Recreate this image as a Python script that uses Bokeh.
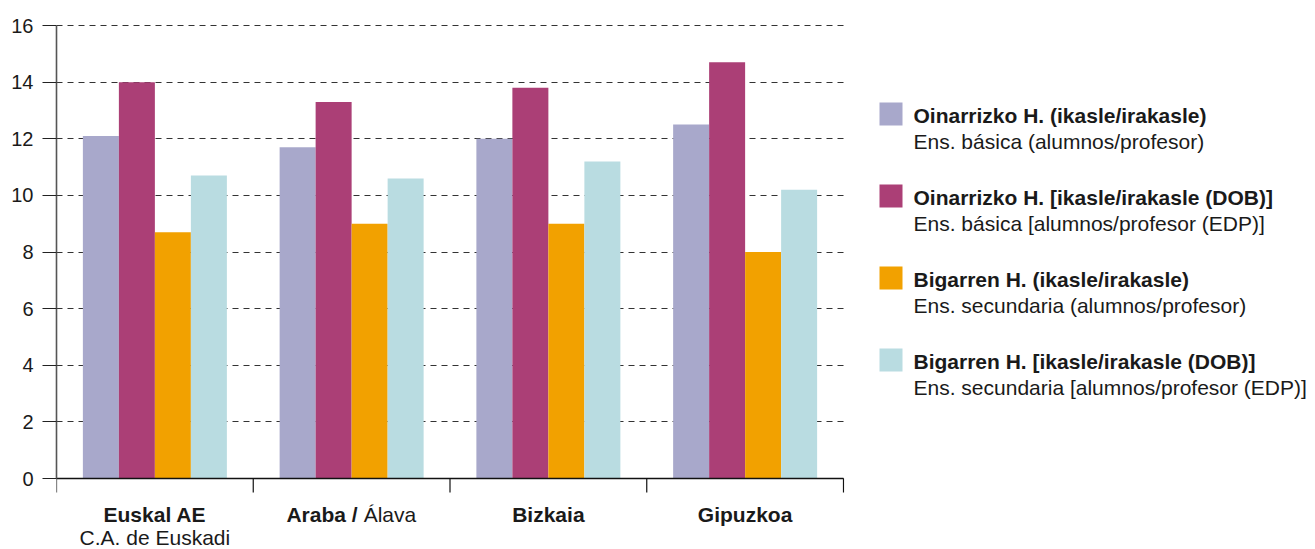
from bokeh.plotting import figure
from bokeh.models import Range1d, FixedTicker
from bokeh.layouts import row
from bokeh.embed import file_html
from bokeh.resources import INLINE
from bokeh.core.properties import value

# ---------------- data ----------------
categories = ["Euskal AE", "Araba / Álava", "Bizkaia", "Gipuzkoa"]
cat_bold = ["Euskal AE", "Araba /", "Bizkaia", "Gipuzkoa"]
cat_inline = ["", "Álava", "", ""]
cat_sub = ["C.A. de Euskadi", "", "", ""]

series_bold = [
    "Oinarrizko H. (ikasle/irakasle)",
    "Oinarrizko H. [ikasle/irakasle (DOB)]",
    "Bigarren H. (ikasle/irakasle)",
    "Bigarren H. [ikasle/irakasle (DOB)]",
]
series_regular = [
    "Ens. básica (alumnos/profesor)",
    "Ens. básica [alumnos/profesor (EDP)]",
    "Ens. secundaria (alumnos/profesor)",
    "Ens. secundaria [alumnos/profesor (EDP)]",
]
basica = [12.1, 11.7, 12.0, 12.5]
basica_edp = [14.0, 13.3, 13.8, 14.7]
secundaria = [8.7, 9.0, 9.0, 8.0]
secundaria_edp = [10.7, 10.6, 11.2, 10.2]
series_values = [basica, basica_edp, secundaria, secundaria_edp]
colors = ["#A8A8CB", "#AB3F76", "#F2A100", "#B9DCE1"]
y_ticks = [0, 2, 4, 6, 8, 10, 12, 14, 16]

# ---------------- layout constants ----------------
FONT = "Liberation Sans"
TXT = "#1a1a1a"
H = 549
W_TOTAL = 1315
W_MAIN = 856
W_LEG = W_TOTAL - W_MAIN
LEFT, RIGHT, TOP = 56, 12, 23
FRAME_W = W_MAIN - LEFT - RIGHT
FRAME_H = H - TOP
PX = 16 / 453.0              # data units per pixel (y)
y_end = 16 + 2 * PX
y_start = y_end - FRAME_H * PX
CAT_PX = 787 / 4.0           # pixels per category
x_end = FRAME_W / CAT_PX
BW = 36 / CAT_PX             # bar width in category units

n = len(categories)

p = figure(width=W_MAIN, height=H, output_backend="svg", toolbar_location=None,
           x_range=Range1d(0, x_end), y_range=Range1d(y_start, y_end),
           x_axis_location=None, min_border_left=LEFT, min_border_right=RIGHT,
           min_border_top=TOP, min_border_bottom=0)
p.outline_line_color = None
p.background_fill_color = "white"
p.border_fill_color = "white"

# y axis
yax = p.yaxis[0]
yax.ticker = FixedTicker(ticks=y_ticks)
yax.bounds = (0, 16)
yax.major_tick_out = 14
yax.major_tick_in = 0
yax.minor_tick_line_color = None
yax.major_label_standoff = 9
yax.major_label_text_font = FONT
yax.major_label_text_font_size = "20px"
yax.major_label_text_color = TXT
yax.axis_line_color = "#555555"
yax.axis_line_width = 1.6
yax.major_tick_line_color = "#222222"

p.xgrid.visible = False
p.ygrid.ticker = FixedTicker(ticks=y_ticks)
p.ygrid.bounds = (-1, 17)
p.ygrid.grid_line_color = "#333333"
p.ygrid.grid_line_dash = "6 5"
p.ygrid.grid_line_width = 1.1

# bars
for k, vals in enumerate(series_values):
    xs = [i + 0.5 + (k - 1.5) * BW for i in range(n)]
    p.vbar(x=xs, top=vals, bottom=0, width=BW, fill_color=colors[k], line_color=None)

# x axis line and category separator ticks
p.segment(x0=[0], x1=[n], y0=[0], y1=[0], line_color="#111111", line_width=1.3)
bx = list(range(n + 1))
p.segment(x0=bx, x1=bx, y0=[0] * (n + 1), y1=[-14 * PX] * (n + 1),
          line_color="#111111", line_width=1.2)

# category labels (text_baseline middle; y = vertical centre of the line)
centers = [i + 0.5 for i in range(n)]
plain_idx = [i for i in range(n) if not cat_inline[i]]
inl_idx = [i for i in range(n) if cat_inline[i]]
L1 = -35.5 * PX
L2 = -59 * PX
p.text(x=[centers[i] for i in plain_idx], y=[L1] * len(plain_idx),
       text=[cat_bold[i] for i in plain_idx], text_font=value(FONT), text_font_style="bold",
       text_font_size="21px", text_align="center", text_baseline="middle", text_color=TXT)
if inl_idx:
    p.text(x=[centers[i] for i in inl_idx], y=[L1] * len(inl_idx),
           text=[cat_bold[i] for i in inl_idx], text_font=value(FONT), text_font_style="bold",
           text_font_size="21px", text_align="right", text_baseline="middle",
           text_color=TXT, x_offset=6)
    p.text(x=[centers[i] for i in inl_idx], y=[L1] * len(inl_idx),
           text=[cat_inline[i] for i in inl_idx], text_font=value(FONT),
           text_font_size="21px", text_align="left", text_baseline="middle",
           text_color=TXT, x_offset=12)
sub_idx = [i for i in range(n) if cat_sub[i]]
p.text(x=[centers[i] for i in sub_idx], y=[L2] * len(sub_idx),
       text=[cat_sub[i] for i in sub_idx], text_font=value(FONT),
       text_font_size="21px", text_align="center", text_baseline="middle", text_color=TXT)

# ---------------- legend figure (data units = pixels) ----------------
lg = figure(width=W_LEG, height=H, output_backend="svg", toolbar_location=None,
            x_range=Range1d(0, W_LEG), y_range=Range1d(H, TOP),
            x_axis_location=None, y_axis_location=None,
            min_border_left=0, min_border_right=0, min_border_top=TOP, min_border_bottom=0)
lg.outline_line_color = None
lg.grid.visible = False
lg.border_fill_color = "white"
lg.background_fill_color = "white"

m = len(series_bold)
yc = [113.5 + 82 * i for i in range(m)]
lg.rect(x=[34.5] * m, y=yc, width=23, height=23, fill_color=colors, line_color=None)
lg.text(x=[57] * m, y=[v + 1.5 for v in yc], text=series_bold, text_font=value(FONT),
        text_font_style="bold", text_font_size="21px", text_baseline="middle",
        text_color=TXT)
lg.text(x=[57] * m, y=[v + 27.8 for v in yc], text=series_regular, text_font=value(FONT),
        text_font_size="21px", text_baseline="middle", text_color=TXT)

layout = row(p, lg)
open("out.html", "w").write(file_html(layout, INLINE))
